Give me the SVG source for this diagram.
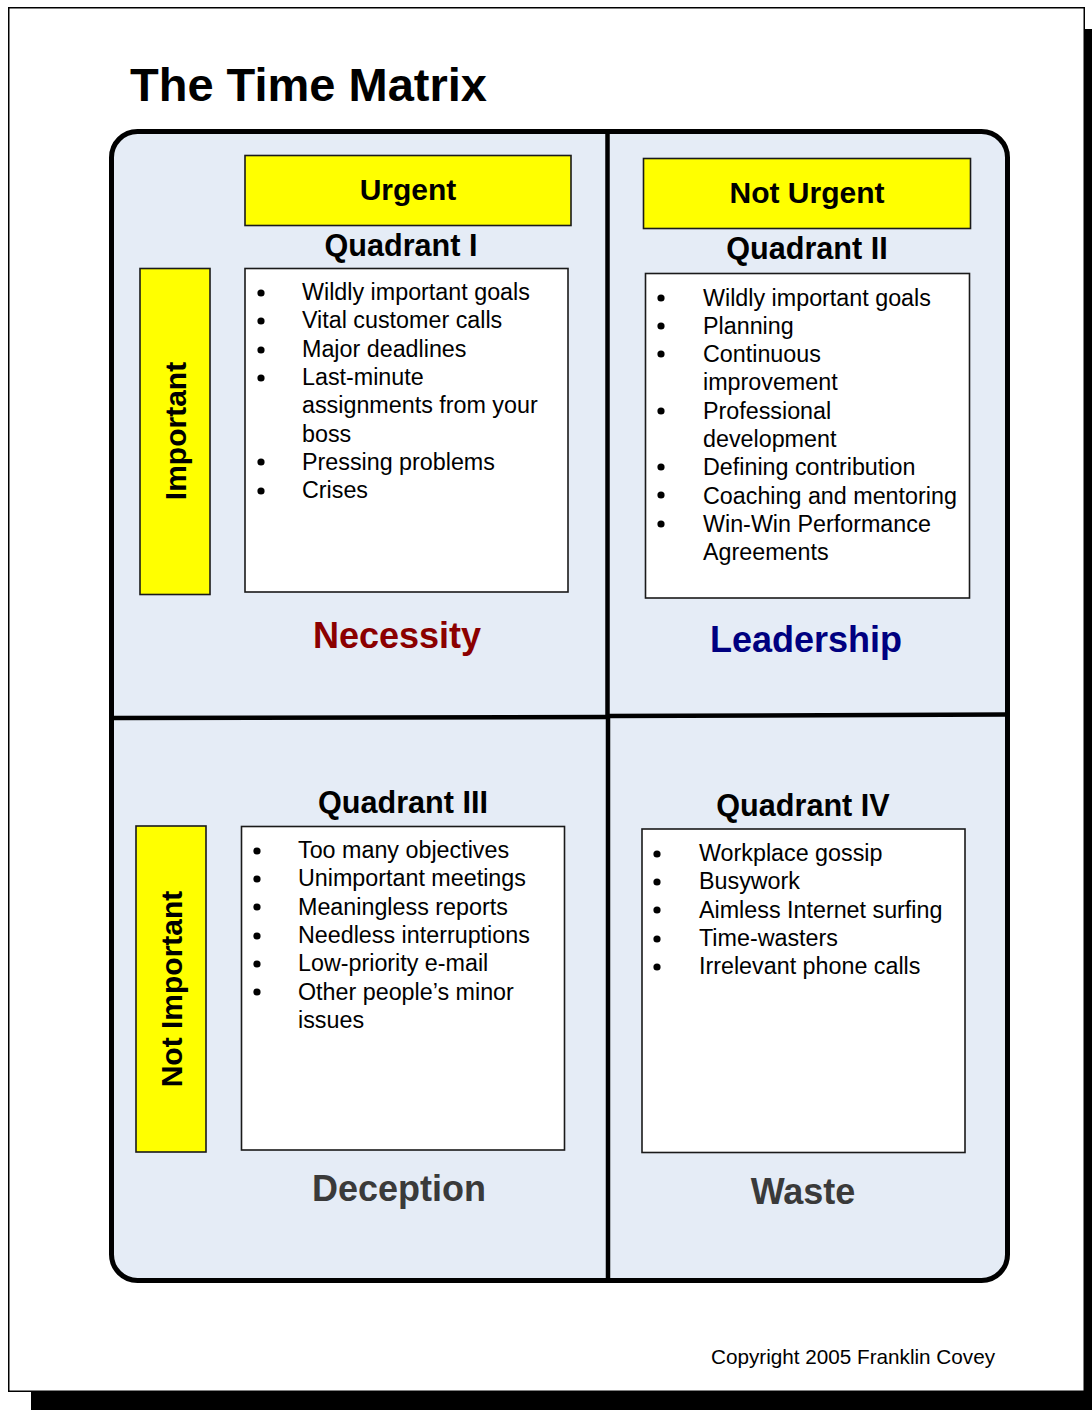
<svg xmlns="http://www.w3.org/2000/svg" width="1092" height="1410" viewBox="0 0 1092 1410">
  <style>
    text { font-family: "Liberation Sans", Arial, sans-serif; }
    .title { font-size: 47px; font-weight: bold; fill: #000; }
    .hdr { font-size: 30px; font-weight: bold; fill: #000; text-anchor: middle; }
    .quad { font-size: 30.6px; font-weight: bold; fill: #000; text-anchor: middle; }
    .item { font-size: 23.3px; fill: #000; }
    .tag { font-size: 36px; font-weight: bold; text-anchor: middle; }
    .yellow { fill: #ffff00; stroke: #1a1a1a; stroke-width: 1.6; }
    .list { fill: #ffffff; stroke: #1a1a1a; stroke-width: 1.6; }
    .bullet { fill: #000; }
    .copy { font-size: 20.7px; fill: #000; text-anchor: end; }
  </style>

  <!-- page with drop shadow -->
  <rect x="1085" y="29" width="7" height="1381" fill="#000"/>
  <rect x="31" y="1392" width="1061" height="18" fill="#000"/>
  <rect x="8.75" y="7.75" width="1075.5" height="1383.5" fill="#fff" stroke="#000" stroke-width="1.5"/>

  <text class="title" x="130" y="101">The Time Matrix</text>

  <!-- matrix frame -->
  <g id="frame">
    <rect x="111.5" y="131.5" width="896" height="1149" rx="26" ry="26" fill="#e5ecf6" stroke="#000" stroke-width="5"/>
  </g>

  <!-- dividers -->
  <g id="connectors" stroke="#000" stroke-width="4.5" fill="none">
    <line x1="607.5" y1="133" x2="607.5" y2="717"/>
    <line x1="608" y1="716" x2="608" y2="1279"/>
    <line x1="113" y1="718" x2="608" y2="717"/>
    <line x1="608" y1="716" x2="1006" y2="714.5"/>
  </g>

  <g id="urgent">
    <rect class="yellow" x="245" y="155.5" width="326" height="70"/>
    <text class="hdr" x="408" y="200">Urgent</text>
  </g>

  <g id="not-urgent">
    <rect class="yellow" x="643.5" y="158.5" width="327" height="70"/>
    <text class="hdr" x="807" y="203">Not Urgent</text>
  </g>

  <g id="important">
    <rect class="yellow" x="140" y="268.5" width="70" height="326"/>
    <text class="hdr" transform="translate(186,431) rotate(-90)">Important</text>
  </g>

  <g id="not-important">
    <rect class="yellow" x="136" y="826" width="70" height="326"/>
    <text class="hdr" transform="translate(182,989) rotate(-90)">Not Important</text>
  </g>

  <!-- Quadrant I -->
  <g id="quadrant-1">
    <text class="quad" x="401" y="256">Quadrant I</text>
    <rect class="list" x="245" y="268.5" width="323" height="323.5"/>
    <g class="bullet">
      <circle cx="261" cy="293" r="3.6"/>
      <circle cx="261" cy="321" r="3.6"/>
      <circle cx="261" cy="350" r="3.6"/>
      <circle cx="261" cy="378" r="3.6"/>
      <circle cx="261" cy="462" r="3.6"/>
      <circle cx="261" cy="491" r="3.6"/>
    </g>
    <text class="item" x="302" y="300">Wildly important goals</text>
    <text class="item" x="302" y="328.3">Vital customer calls</text>
    <text class="item" x="302" y="356.6">Major deadlines</text>
    <text class="item" x="302" y="384.9">Last-minute</text>
    <text class="item" x="302" y="413.2">assignments from your</text>
    <text class="item" x="302" y="441.5">boss</text>
    <text class="item" x="302" y="469.8">Pressing problems</text>
    <text class="item" x="302" y="498.1">Crises</text>
    <text class="tag" x="397" y="648" fill="#8b0000">Necessity</text>
  </g>

  <!-- Quadrant II -->
  <g id="quadrant-2">
    <text class="quad" x="807" y="259">Quadrant II</text>
    <rect class="list" x="645.5" y="273.5" width="324" height="324.5"/>
    <g class="bullet">
      <circle cx="661" cy="298" r="3.6"/>
      <circle cx="661" cy="326" r="3.6"/>
      <circle cx="661" cy="354" r="3.6"/>
      <circle cx="661" cy="411" r="3.6"/>
      <circle cx="661" cy="467" r="3.6"/>
      <circle cx="661" cy="495" r="3.6"/>
      <circle cx="661" cy="524" r="3.6"/>
    </g>
    <text class="item" x="703" y="305.5">Wildly important goals</text>
    <text class="item" x="703" y="333.8">Planning</text>
    <text class="item" x="703" y="362.1">Continuous</text>
    <text class="item" x="703" y="390.4">improvement</text>
    <text class="item" x="703" y="418.7">Professional</text>
    <text class="item" x="703" y="447">development</text>
    <text class="item" x="703" y="475.3">Defining contribution</text>
    <text class="item" x="703" y="503.6">Coaching and mentoring</text>
    <text class="item" x="703" y="531.9">Win-Win Performance</text>
    <text class="item" x="703" y="560.2">Agreements</text>
    <text class="tag" x="806" y="652" fill="#000080">Leadership</text>
  </g>

  <!-- Quadrant III -->
  <g id="quadrant-3">
    <text class="quad" x="403" y="813">Quadrant III</text>
    <rect class="list" x="241.5" y="826.5" width="323" height="323.5"/>
    <g class="bullet">
      <circle cx="257" cy="851" r="3.6"/>
      <circle cx="257" cy="879" r="3.6"/>
      <circle cx="257" cy="907" r="3.6"/>
      <circle cx="257" cy="936" r="3.6"/>
      <circle cx="257" cy="964" r="3.6"/>
      <circle cx="257" cy="992" r="3.6"/>
    </g>
    <text class="item" x="298" y="858">Too many objectives</text>
    <text class="item" x="298" y="886.3">Unimportant meetings</text>
    <text class="item" x="298" y="914.6">Meaningless reports</text>
    <text class="item" x="298" y="942.9">Needless interruptions</text>
    <text class="item" x="298" y="971.2">Low-priority e-mail</text>
    <text class="item" x="298" y="999.5">Other people’s minor</text>
    <text class="item" x="298" y="1027.8">issues</text>
    <text class="tag" x="399" y="1201" fill="#3a3a3a">Deception</text>
  </g>

  <!-- Quadrant IV -->
  <g id="quadrant-4">
    <text class="quad" x="803" y="816">Quadrant IV</text>
    <rect class="list" x="642" y="829" width="323" height="323.5"/>
    <g class="bullet">
      <circle cx="657" cy="854" r="3.6"/>
      <circle cx="657" cy="882" r="3.6"/>
      <circle cx="657" cy="910" r="3.6"/>
      <circle cx="657" cy="939" r="3.6"/>
      <circle cx="657" cy="967" r="3.6"/>
    </g>
    <text class="item" x="699" y="861">Workplace gossip</text>
    <text class="item" x="699" y="889.3">Busywork</text>
    <text class="item" x="699" y="917.6">Aimless Internet surfing</text>
    <text class="item" x="699" y="945.9">Time-wasters</text>
    <text class="item" x="699" y="974.2">Irrelevant phone calls</text>
    <text class="tag" x="803" y="1204" fill="#3a3a3a">Waste</text>
  </g>

  <text class="copy" x="995" y="1364">Copyright 2005 Franklin Covey</text>
</svg>
